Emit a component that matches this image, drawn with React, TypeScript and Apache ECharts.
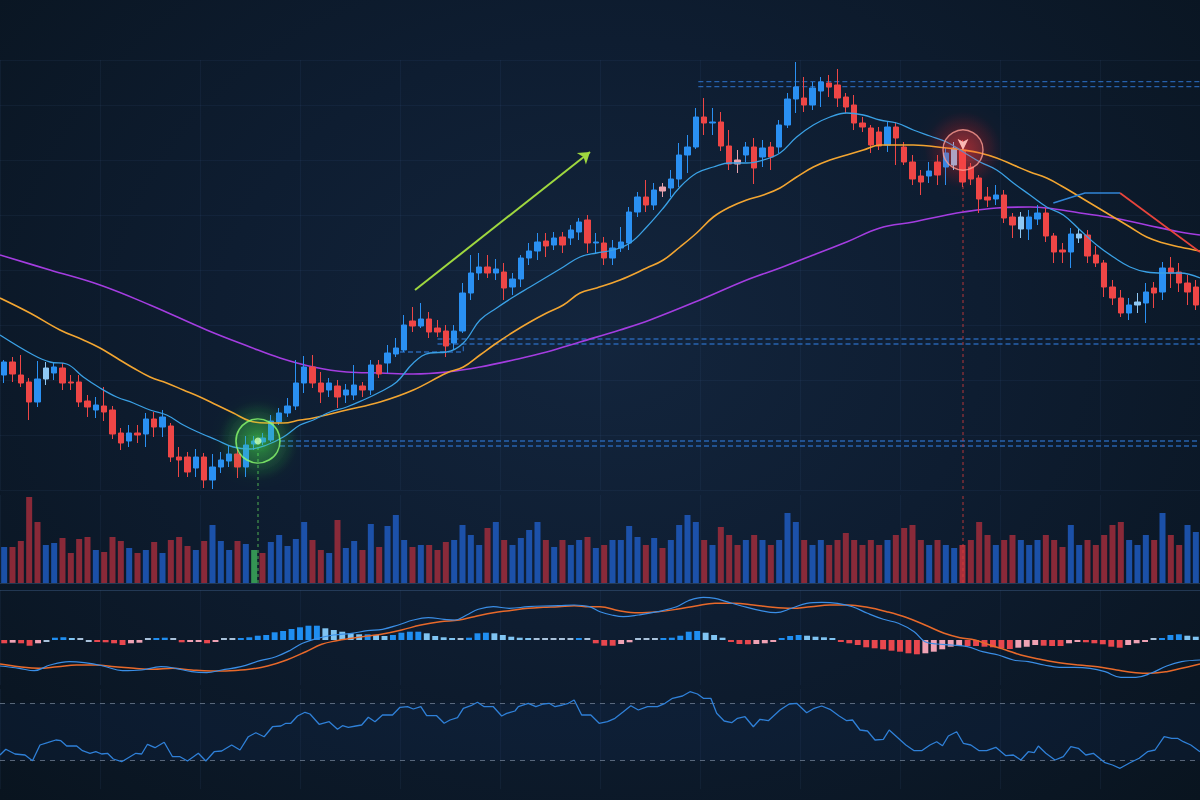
import React, { useEffect, useRef } from "react";
import * as echarts from "echarts";

// ---------- DATA ----------
const days = Array.from({ length: 144 }, (_, i) => `D${i + 1}`);

// [open, close, low, high]
const candles = [
  [225,238,217,240],[238,226,218,243],[225,217,213,245],[218,198,180,222],[198,221,193,239],
  [221,232,215,238],[227,233,220,237],[232,217,210,237],[218,217,210,225],[218,198,193,225],
  [199,193,183,205],[190,195,182,203],[194,188,179,213],[190,166,161,194],[167,157,150,172],
  [159,167,153,175],[167,165,157,175],[166,181,153,187],[181,173,163,188],[173,183,163,190],
  [174,143,138,177],[143,140,123,153],[143,128,123,148],[132,143,123,151],[143,120,112,147],
  [120,133,111,146],[133,140,127,148],[139,146,133,155],[146,133,122,152],[133,155,123,164],
  [156,159,150,164],[158,162,155,167],[160,179,158,185],[178,187,175,192],[187,194,183,202],
  [194,217,190,240],[217,233,207,244],[233,217,212,245],[217,208,197,228],[210,217,203,222],
  [214,203,192,220],[205,210,197,216],[205,215,200,235],[214,210,203,218],[210,235,205,240],
  [235,226,222,240],[237,247,227,255],[246,252,243,262],[250,275,248,285],[279,274,268,293],
  [274,281,272,297],[281,268,262,288],[272,268,263,280],[269,254,243,275],[257,269,250,275],
  [269,307,267,317],[307,327,300,345],[327,333,320,347],[333,327,322,345],[327,331,320,341],
  [328,312,300,337],[313,321,305,327],[321,342,313,345],[342,349,335,357],[349,358,340,367],
  [359,354,343,367],[355,362,350,368],[363,355,347,368],[362,370,355,375],[368,378,360,382],
  [380,357,347,385],[357,358,347,367],[357,342,335,363],[342,352,335,360],[352,358,348,373],
  [357,388,350,393],[388,403,383,408],[403,395,388,420],[395,410,390,417],[413,409,403,417],
  [412,421,403,430],[421,445,413,457],[445,453,427,465],[453,483,451,492],[483,477,465,502],
  [477,478,465,492],[478,454,449,488],[454,436,430,470],[440,436,427,450],[445,453,438,458],
  [453,432,416,462],[443,452,433,460],[453,443,430,458],[453,475,447,480],[475,501,472,507],
  [501,513,487,538],[502,495,488,523],[495,512,490,518],[509,518,493,523],[517,513,503,525],
  [515,502,493,531],[503,493,487,507],[495,477,470,505],[477,473,468,483],[472,455,447,475],
  [468,454,450,473],[455,473,448,478],[473,462,435,478],[453,438,435,458],[438,421,415,445],
  [424,418,405,430],[424,429,417,438],[438,425,415,445],[433,447,415,452],[435,452,430,458],
  [450,418,413,460],[433,421,415,437],[422,401,387,425],[403,400,393,413],[401,405,395,415],
  [405,382,377,410],[383,375,362,387],[371,383,362,388],[371,383,360,390],[381,387,375,395],
  [387,364,358,392],[364,348,337,367],[350,348,337,357],[348,366,332,372],[362,366,357,372],
  [365,344,337,370],[345,337,333,354],[337,313,303,340],[313,302,295,320],[302,287,283,310],
  [287,295,280,302],[295,298,287,307],[297,308,277,317],[312,307,292,318],[308,332,300,338],
  [332,327,312,343],[328,317,308,337],[317,308,295,325],[313,295,290,320],
];
const lightCandles = [5, 79, 88, 114, 122, 129, 136];

const volumes = [
  36,36,42,86,61,38,40,45,30,44, 46,33,31,46,42,35,30,33,41,30,
  43,46,37,33,42,58,42,33,42,39, 33,30,41,48,37,44,61,43,33,30,
  63,35,42,33,59,36,57,68,43,36, 38,38,33,41,43,58,48,38,55,61,
  43,38,45,53,61,43,36,43,38,43, 46,35,38,43,43,57,46,38,45,35,
  43,58,68,61,43,38,56,48,38,43, 48,43,38,43,70,61,43,38,43,38,
  43,50,43,38,43,38,43,48,55,58, 43,38,43,38,35,38,43,61,48,38,
  43,48,43,38,43,48,43,36,58,38, 43,38,48,58,61,43,38,48,43,70,
  48,38,58,51,
];
const volumeDirs = (
  "udddduuddd" + "dudddududu" + "ddduduuudu" + "sduuuuuddu" + "duududuuud" +
  "uddduuuudu" + "duuuududuu" + "duduuuudud" + "uuuududddu" + "duduuuduud" +
  "dddddduddd" + "duduuxdddu" + "dduuuddduu" + "ddddduuudu" + "dduu"
).split("");

// moving averages: [bar position, price]
const maFast = [
  [-0.5,265],[3.5,245],[5.5,238],[7.5,236],[9.5,223],[11.5,212],[13.5,203],[15.5,197],[17.5,190],
  [19.5,185],[21.5,175],[23.5,167],[25.5,160],[27.5,153],[29.5,151],[31.5,155],[33.5,163],[35.5,175],
  [37.1,180],[39.1,188],[41.1,193],[43.1,200],[45.1,208],[47.1,218],[49.1,237],[51.1,247],[53.1,248],
  [55.1,257],[57.1,280],[59.1,292],[61.1,303],[63.1,313],[65.1,323],[67.1,333],[69.1,343],[71.1,347],
  [73.1,350],[75.1,357],[77.1,373],[79.1,392],[81.1,413],[83.1,427],[85.1,433],[87.1,437],[89.1,437],
  [91.1,440],[93.1,447],[95.1,463],[97.1,475],[99.1,483],[101.1,487],[103.1,485],[105.1,480],
  [107.1,477],[109.1,470],[111.1,464],[113.1,458],[115.1,448],[117.1,438],[119.1,430],[121.1,417],
  [123.1,405],[125.1,393],[127.1,385],[129.1,370],[131.1,355],[133.1,343],[135.1,333],[137.1,328],
  [139.1,327],[141.1,327],[143.5,322],
];
const maMid = [
  [-0.5,302],[3.1,287],[6.7,270],[9.5,260],[11.5,252],[13.5,242],[15.5,232],[17.5,223],[19.5,217],
  [21.5,210],[23.5,203],[25.5,195],[27.5,187],[29.5,179],[31.5,177],[33.5,177],[35.5,180],[37.1,182],
  [41.1,190],[45.1,198],[49.1,210],[53.1,227],[55.1,233],[57.1,245],[59.1,257],[61.1,268],[63.1,278],
  [65.1,287],[67.1,295],[69.1,307],[71.1,312],[73.9,320],[77.1,332],[79.1,340],[81.1,353],[83.1,367],
  [85.1,383],[87.1,393],[89.1,400],[91.1,405],[93.1,412],[95.1,423],[97.1,433],[99.1,440],[101.1,445],
  [103.1,450],[105.1,455],[109.1,455],[113.1,452],[115.1,450],[117.1,447],[119.1,442],[121.1,435],
  [123.1,428],[125.1,422],[127.1,413],[129.1,403],[131.1,393],[133.1,383],[135.1,373],[137.1,363],
  [139.1,357],[141.1,353],[143.5,349],
];
const maSlow = [
  [-0.5,345],[5.5,330],[11.5,315],[17.5,295],[24.3,270],[29.5,253],[33.1,242],[37.1,233],[41.1,228],
  [45.1,227],[49.1,226],[53.1,228],[57.1,233],[61.1,240],[65.1,248],[69.1,258],[73.9,270],[77.5,280],
  [83.5,300],[89.1,320],[93.1,332],[97.1,345],[101.1,358],[105.1,372],[109.1,378],[113.1,385],
  [115.1,388],[119.1,392],[123.1,393],[125.1,392],[129.1,387],[133.1,382],[137.1,375],[141.1,368],
  [143.5,365],
];

// annotations (data coordinates: bar position, price)
const levelStarts = [83.3, 52, 33.1];
const levelPrices = [[518.3, 513.3], [261, 256], [159, 154]];
const boxLine = [[47.5, 248], [55.1, 248], [55.1, 256]];
const trendArrow = [[49.3, 310], [70.3, 448]];
const blueTrend = [[125.9, 397], [129.7, 407], [133.9, 407]];
const redTrend = [[133.9, 407], [143.5, 348]];
const buySignal = [30.46, 159];
const sellSignal = [115.06, 450];
const lastBar = 143.5;

// MACD
const macdHist = [
  -3.3,-2.7,-3.3,-5.7,-3.3,-0.7,2.3,2.7,1.7,0.7, -0.5,-1.7,-2.3,-3.3,-5,-3.3,-2.7,0.5,1,2.3,
  0.5,-2.3,-2,-1.7,-3.3,-1.7,0.5,0.5,1,2.7, 4.3,5,7.7,9,11,12.7,14.3,14.3,11.7,10,
  8.3,6.7,5.7,5.7,5,4,5,7.3,8.3,8.3, 6.7,4,2.7,1.3,0.7,2.3,6.7,7.3,6.7,5,
  3.3,2.3,1.3,0.7,0.5,0.5,0.5,0.5,1.3,0.5, -3.3,
  -5.7,-5.7,-4,-2.3,0.5,0.5,0.5,1.3,2.3,4.3, 8.3,9,7.3,5,2.3,-1.3,-4,-4.3,-4,-3.3,
  -1.3,1,4,5,4.3,3.3,2.7,1.3,-1.7,-3.3, -5,-7.3,-8.3,-9.3,-10.7,-11.7,-13.3,-14.3,-13.3,-11.7,
  -9.3,-6.7,-6,-6,-6,-6.7,-7.3,-8.3,-9,-7.7, -6.7,-5,-5.7,-6,-6,-3.3,-2,-2.3,-3.3,-4.3,
  -6.7,-7.7,-5,-3.3,-1.7,0.5,1.7,5,5.7,4.3, 3.3,
];
const macdBars = macdHist.map((_, i) => `${i + 1}`);
const macdDif = [
  [-0.5,-26],[1.8,-28.3],[3.6,-30.7],[5.5,-25],[7.8,-21.7],[9.6,-22.7],[11.9,-26],[14.2,-30.7],
  [16.5,-30],[18.8,-26.7],[20.6,-28.3],[22.5,-31.7],[24.3,-32.7],[26.1,-30],[28.4,-26.7],[30.7,-20.7],
  [32.6,-16.7],[34.4,-10],[35.8,-3.3],[37.6,1.7],[39.5,5],[41.7,6.7],[43.6,9.3],[45.4,10.7],[47.3,15],
  [49.1,20],[50.9,22.3],[52.8,20.7],[54.1,20],[55.5,25],[56.9,30.7],[58.7,33.3],[60.6,31.7],[62.9,33.3],
  [64.7,34],[66.5,34.3],[68.4,35],[70.2,33.3],[71.5,28.3],[72.9,25],[74.3,23.3],[76.1,25],[78.4,28.3],
  [80.7,33.3],[82.1,39.3],[83.9,42.7],[85.3,41.7],[86.7,38.3],[88.5,34],[90.8,29.3],[92.6,27.3],
  [94.5,31.7],[96.3,36.7],[98.1,37.7],[100,36.7],[101.8,33.3],[103.6,26.7],[105.5,20.7],[107.3,16.7],
  [109.2,8.3],[110.5,-1.7],[111.9,-4],[113.7,-5],[115.6,-6.7],[117.4,-11.7],[119.3,-15],[121.1,-20],
  [122.9,-21.7],[124.8,-25],[126.6,-27.3],[128.4,-27.3],[130.3,-28.3],[132.1,-31.7],[134,-37.3],
  [135.8,-37.3],[137.6,-33.3],[139.5,-26],[141.3,-21.7],[143.5,-20],
];
const macdDea = [
  [-0.5,-24],[1.8,-26.7],[4.1,-28.3],[6.4,-26.7],[8.7,-25],[11,-25],[13.3,-26.7],[15.6,-28.3],
  [17.9,-29.3],[20.2,-28.3],[22.5,-30],[24.8,-31],[27.1,-30.7],[29.4,-29.3],[31.6,-26],[33.9,-20],
  [36.2,-11.7],[38.1,-4.3],[39.9,-0.7],[41.7,1.7],[43.6,4],[45.4,6],[47.7,10],[50,15],[52.3,18.3],
  [54.6,20],[56.4,23.3],[58.7,27.3],[60.6,29.3],[62.9,31.7],[64.7,32.7],[66.5,33.3],[68.4,34.3],
  [70.2,33.3],[71.5,33.3],[73.8,29.3],[76.1,27.3],[78.4,28.3],[80.7,30.7],[83,34],[85.3,36.7],
  [87.6,36.7],[89.9,35],[92.2,32.7],[94.5,31.7],[96.8,33.3],[99.1,35],[101.3,35],[103.6,32.7],
  [105.9,28.3],[108.2,22.7],[110.5,15],[112.8,6.7],[114.7,2.3],[116.5,0],[118.3,-5],[120.2,-10],
  [122,-15],[124.3,-19.3],[126.6,-22.7],[128.9,-25],[131.2,-26.7],[133.5,-30],[135.8,-32.7],
  [137.6,-33.3],[139.5,-31.7],[141.3,-28.3],[143.5,-24],
];

// RSI
const rsi = [
  [-0.5,33.8],[0.2,37.8],[1.3,34.5],[2.5,33.8],[3.4,29.8],[4.3,40.8],[5.2,42.4],[6.2,44.3],[6.8,43.8],
  [7.5,40.1],[8.7,40.1],[9.4,36.8],[10.3,35],[11,36.1],[11.7,34.5],[12.4,35],[13.1,31],[14.1,29.1],
  [15.1,32.6],[15.8,35],[16.5,34.5],[17.2,41.3],[18.1,38.9],[19.2,42.7],[20.2,32.6],[21.1,32.6],
  [22,29.6],[23.3,35],[24.2,29.6],[25.2,36.1],[26.1,36.6],[27.3,40.8],[28.3,37.3],[29.3,46.6],
  [30.2,49.4],[31.2,46.6],[32.2,53.6],[33.2,54.1],[33.8,56],[34.4,56],[35.2,61.1],[36.1,63.7],
  [36.7,62.5],[37.8,55.3],[39,57.1],[40,51.8],[40.6,54.3],[41.3,53.2],[42.2,54.1],[42.9,54.8],
  [43.7,60.2],[44.5,57.1],[45.4,61.8],[46.6,61.8],[47.5,67.2],[48.4,67.6],[49.1,66],[50,67.6],
  [50.7,61.3],[51.9,61.3],[52.8,56],[53.5,58.3],[54.4,59.9],[55.1,66.5],[56,68.3],[56.8,70.7],
  [57.6,67.6],[58.7,67.6],[59.7,61.1],[60.3,62.9],[61.3,64.6],[61.7,67.6],[62.9,70],[63.8,67.6],
  [64.7,69.5],[65.4,70],[66.1,67.6],[67,68.8],[67.7,70],[68.4,72.3],[69.3,61.8],[70.4,61.8],[71.4,56],
  [72.4,57.1],[73.3,59.5],[74.3,64.1],[75.2,68.3],[76.1,65.3],[77.2,67.6],[78.4,67.6],[79.3,70],
  [80.2,73.5],[81.4,75.1],[82.3,78.1],[83.2,76.5],[83.9,73.5],[84.8,73.5],[85.5,63],[86.4,57.6],
  [87.3,56.4],[88,59.5],[88.9,60.6],[89.9,53.6],[90.7,58.8],[91.7,57.8],[93.1,65.3],[94.2,69.5],
  [95.1,70],[96.3,63.4],[97.2,66.5],[98.1,68.1],[99.1,65.8],[100.2,61.1],[101.1,57.8],[101.8,58.3],
  [102.7,51.3],[103.6,50.6],[104.5,44.3],[105.5,44.8],[106.2,51.3],[107.1,46.6],[108.2,40.8],
  [109.2,36.8],[110.1,36.8],[111.1,40.8],[111.9,43.1],[112.6,40.3],[113.3,47.1],[114.3,50.1],
  [115.1,42],[116,40.8],[117,36.8],[117.9,36.8],[119,39.2],[120.2,33.3],[121.1,33.8],[122,30.3],
  [122.9,36.1],[123.6,35.4],[124.1,40.1],[125,35],[126.1,30.3],[127.1,32.6],[128,39.6],[128.9,38.5],
  [129.8,33.8],[130.7,35],[132.1,28.4],[133,26.8],[133.9,24.5],[135.1,28.4],[136.2,31.5],[137.2,36.1],
  [138.1,37.3],[139.2,46.6],[140.1,45.5],[140.8,45.5],[141.5,43.1],[142.4,40.8],[143.5,36.1],
];
const rsiBands = [70, 30];

// ---------- CHART ----------
const UP = "#2a90f2";
const DOWN = "#ee4646";
const FAINT = "rgba(90,130,185,0.08)";

function segment(data: number[][], color: string, xi: number, yi: number, type: any = "dashed", width = 1.2, z = 3) {
  return {
    type: "line",
    xAxisIndex: xi,
    yAxisIndex: yi,
    data,
    symbol: "none",
    silent: true,
    z,
    lineStyle: { color, width, type },
  };
}

function halo(inner: string) {
  return {
    type: "radial", x: 0.5, y: 0.5, r: 0.5,
    colorStops: [
      { offset: 0, color: inner },
      { offset: 0.55, color: inner.replace(/[\d.]+\)$/, "0.18)") },
      { offset: 1, color: inner.replace(/[\d.]+\)$/, "0)") },
    ],
  };
}

export default function App() {
  const ref = useRef<HTMLDivElement>(null);

  useEffect(() => {
    if (!ref.current) return;
    const chart = echarts.init(ref.current, null, { renderer: "svg" });

    const candleData = candles.map((c, i) => {
      if (!lightCandles.includes(i)) return c;
      const up = c[1] >= c[0];
      const col = up ? "#8ec8f4" : "#eba3ae";
      return { value: c, itemStyle: { color: col, color0: col, borderColor: col, borderColor0: col } };
    });

    const volData = volumes.map((v, i) => {
      const d = volumeDirs[i];
      let color = d === "u" ? "rgba(30,90,190,0.85)" : "rgba(165,45,60,0.82)";
      if (d === "s") color = "rgba(60,170,90,0.85)";
      if (d === "x") color = "rgba(190,50,60,0.9)";
      return { value: v, itemStyle: { color } };
    });

    const histData = macdHist.map((v, i) => {
      const p = i > 0 ? macdHist[i - 1] : v;
      let color;
      if (Math.abs(v) <= 0.7) color = "#a9c2db";
      else if (v >= 0) color = v >= p ? "#1f8ef1" : "#80c4f2";
      else color = v <= p ? "#e8474e" : "#efa2b4";
      return { value: v, itemStyle: { color } };
    });

    const hiddenCat = (gridIndex: number, data: string[], split: boolean, line: boolean) => ({
      type: "category",
      gridIndex,
      data,
      show: true,
      boundaryGap: true,
      axisLabel: { show: false },
      axisTick: { show: false },
      axisLine: { show: line, lineStyle: { color: "rgba(70,105,150,0.4)", width: 1 } },
      splitLine: { show: split, interval: 11, lineStyle: { color: FAINT, width: 1 } },
    });
    const hiddenVal = (gridIndex: number) => ({
      type: "value",
      gridIndex,
      min: -0.5,
      max: lastBar,
      show: false,
    });

    const levelSeries: any[] = [];
    levelPrices.forEach((pair, k) => {
      pair.forEach((p) => {
        levelSeries.push(segment([[levelStarts[k], p], [lastBar, p]], "rgba(45,115,205,0.8)", 1, 0, [5, 3], 1.3, 2));
      });
    });

    const option: any = {
      animation: false,
      backgroundColor: "transparent",
      grid: [
        { left: 0, right: 0, top: 60, height: 430 },
        { left: 0, right: 0, top: 495, height: 88 },
        { left: 0, right: 0, top: 590, height: 95 },
        { left: 0, right: 0, top: 689, height: 100 },
      ],
      xAxis: [
        hiddenCat(0, days, true, false), // 0 candles
        hiddenVal(0), // 1 overlays main
        hiddenCat(1, days, true, true), // 2 volume
        hiddenVal(1), // 3 overlays volume
        { type: "category", gridIndex: 2, data: macdBars, show: false }, // 4 histogram
        hiddenVal(2), // 5 macd lines
        hiddenVal(3), // 6 rsi
        hiddenCat(2, days, true, true), // 7 macd grid lines
        hiddenCat(3, days, true, false), // 8 rsi grid lines
      ],
      yAxis: [
        {
          type: "value", gridIndex: 0, min: 110, max: 540, interval: 55,
          axisLabel: { show: false }, axisLine: { show: false }, axisTick: { show: false },
          splitLine: { show: true, lineStyle: { color: FAINT } },
        },
        { type: "value", gridIndex: 1, min: 0, max: 88, show: false },
        { type: "value", gridIndex: 2, min: -45, max: 50, show: false },
        { type: "value", gridIndex: 3, min: 10, max: 80, show: false },
      ],
      series: [
        ...levelSeries,
        segment(boxLine, "rgba(45,115,205,0.8)", 1, 0, [5, 3], 1.3, 2),
        // halos behind the signals
        {
          type: "scatter", xAxisIndex: 1, yAxisIndex: 0, z: 3, silent: true,
          data: [buySignal], symbolSize: 80,
          itemStyle: { color: halo("rgba(80,255,90,0.45)") },
        },
        {
          type: "scatter", xAxisIndex: 1, yAxisIndex: 0, z: 3, silent: true,
          data: [sellSignal], symbolSize: 76,
          itemStyle: { color: halo("rgba(255,50,50,0.5)") },
        },
        {
          type: "candlestick",
          xAxisIndex: 0,
          yAxisIndex: 0,
          data: candleData,
          barWidth: "68%",
          z: 5,
          itemStyle: { color: UP, color0: DOWN, borderColor: UP, borderColor0: DOWN, borderWidth: 1 },
        },
        {
          type: "line", xAxisIndex: 1, yAxisIndex: 0, data: maSlow, smooth: 0.4, symbol: "none", z: 4,
          lineStyle: { color: "#a43de0", width: 1.6 },
        },
        {
          type: "line", xAxisIndex: 1, yAxisIndex: 0, data: maMid, smooth: 0.4, symbol: "none", z: 6,
          lineStyle: { color: "#f2a531", width: 1.6 },
        },
        {
          type: "line", xAxisIndex: 1, yAxisIndex: 0, data: maFast, smooth: 0.4, symbol: "none", z: 6,
          lineStyle: { color: "#3aa0e4", width: 1.3 },
          markLine: {
            silent: true,
            symbol: ["none", "arrow"],
            symbolSize: 11,
            label: { show: false },
            lineStyle: { color: "#9fd83f", width: 2, type: "solid" },
            data: [[{ coord: trendArrow[0] }, { coord: trendArrow[1] }]],
          },
        },
        segment(blueTrend, "#3185d6", 1, 0, "solid", 1.5, 6),
        segment(redTrend, "#e8453c", 1, 0, "solid", 1.8, 6),
        // vertical signal lines
        segment([[buySignal[0], buySignal[1]], [buySignal[0], 110]], "rgba(90,200,90,0.85)", 1, 0, [3, 3], 1, 3),
        segment([[sellSignal[0], sellSignal[1]], [sellSignal[0], 110]], "rgba(210,60,60,0.85)", 1, 0, [3, 3], 1, 3),
        segment([[buySignal[0], 0], [buySignal[0], 88]], "rgba(90,200,90,0.85)", 3, 1, [3, 3], 1, 5),
        segment([[sellSignal[0], 0], [sellSignal[0], 88]], "rgba(210,60,60,0.85)", 3, 1, [3, 3], 1, 5),
        // signal circles
        {
          type: "scatter", xAxisIndex: 1, yAxisIndex: 0, z: 8, silent: true,
          data: [buySignal], symbolSize: 44,
          itemStyle: {
            color: "rgba(70,255,90,0.12)", borderColor: "#8cff6e", borderWidth: 1.6,
            shadowBlur: 22, shadowColor: "rgba(60,255,60,0.85)",
          },
        },
        {
          type: "scatter", xAxisIndex: 1, yAxisIndex: 0, z: 9, silent: true,
          data: [buySignal], symbolSize: 7,
          itemStyle: { color: "#c8ffb0", shadowBlur: 12, shadowColor: "#4dff4d" },
        },
        {
          type: "scatter", xAxisIndex: 1, yAxisIndex: 0, z: 8, silent: true,
          data: [sellSignal], symbolSize: 40,
          itemStyle: {
            color: "rgba(255,60,60,0.2)", borderColor: "#ff9a90", borderWidth: 1.4,
            shadowBlur: 24, shadowColor: "rgba(255,40,40,0.9)",
          },
        },
        {
          type: "scatter", xAxisIndex: 1, yAxisIndex: 0, z: 9, silent: true,
          data: [sellSignal], symbol: "arrow", symbolRotate: 180, symbolSize: [8, 11],
          itemStyle: { color: "#ffd0c8", shadowBlur: 8, shadowColor: "#ff3030" },
        },
        // volume
        {
          type: "bar", xAxisIndex: 2, yAxisIndex: 1, data: volData, barWidth: "72%", z: 3,
        },
        // MACD
        {
          type: "bar", xAxisIndex: 4, yAxisIndex: 2, data: histData, barWidth: "70%", barMinHeight: 2, z: 3,
        },
        {
          type: "line", xAxisIndex: 5, yAxisIndex: 2, data: macdDea, smooth: 0.4, symbol: "none", z: 4,
          lineStyle: { color: "#e8692a", width: 1.5 },
        },
        {
          type: "line", xAxisIndex: 5, yAxisIndex: 2, data: macdDif, smooth: 0.4, symbol: "none", z: 5,
          lineStyle: { color: "#3a8ee6", width: 1.2 },
        },
        // RSI
        {
          type: "line", xAxisIndex: 6, yAxisIndex: 3, data: rsi, symbol: "none", z: 5,
          lineStyle: { color: "#2f80d8", width: 1.3 },
          markLine: {
            silent: true, symbol: "none", label: { show: false },
            lineStyle: { color: "rgba(140,155,175,0.6)", type: [5, 5], width: 1 },
            data: rsiBands.map((v) => ({ yAxis: v })),
          },
          markArea: {
            silent: true,
            itemStyle: { color: "rgba(25,70,140,0.10)" },
            data: [[{ yAxis: rsiBands[1] }, { yAxis: rsiBands[0] }]],
          },
        },
      ],
    };

    chart.setOption(option);
    return () => chart.dispose();
  }, []);

  return (
    <div
      style={{
        position: "fixed",
        left: 0,
        top: 0,
        width: 1200,
        height: 800,
        background: "radial-gradient(ellipse at 50% 42%, #13253d 0%, #0e1d31 45%, #09141f 100%)",
      }}
    >
      <div ref={ref} style={{ width: 1200, height: 800 }} />
    </div>
  );
}
